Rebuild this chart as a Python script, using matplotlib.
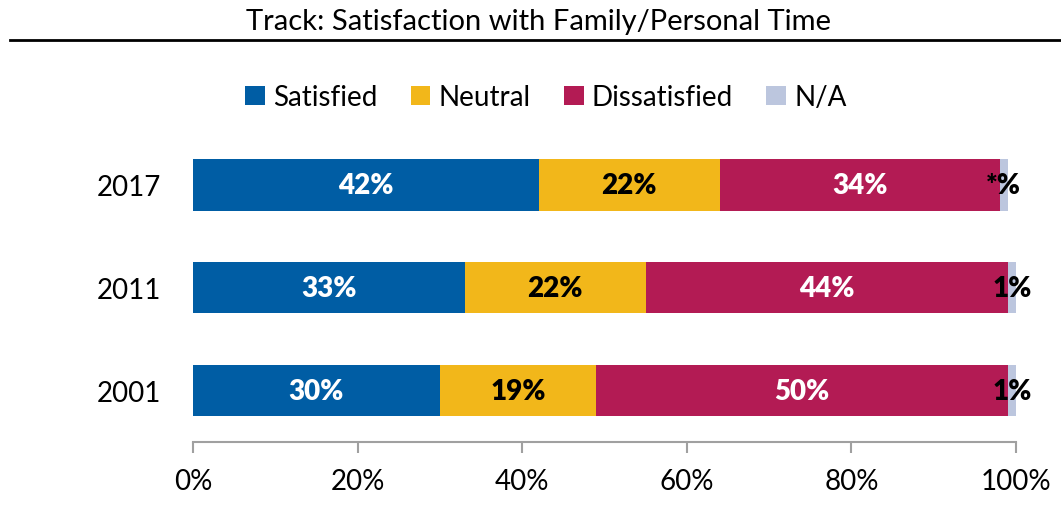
import matplotlib
matplotlib.use("Agg")
import matplotlib.pyplot as plt
from matplotlib.lines import Line2D
import numpy as np

years = ["2001", "2011", "2017"]
series = ["Satisfied", "Neutral", "Dissatisfied", "N/A"]
satisfied = [30, 33, 42]
neutral = [19, 22, 22]
dissatisfied = [50, 44, 34]
na = [1, 1, 1]
na_labels = ["1%", "1%", "*%"]
ticks = [0, 20, 40, 60, 80, 100]
tick_labels = ["0%", "20%", "40%", "60%", "80%", "100%"]

colors = ["#005DA4", "#F2B71A", "#B31B54", "#BCC6DE"]
text_colors = ["white", "black", "white", "black"]

plt.rcParams['font.family'] = ['Lato', 'DejaVu Sans']

fig = plt.figure(figsize=(10.61, 5.06), dpi=100)
ax = fig.add_axes([193/1061, 63/506, 823/1061, 308.5/506])

values = [satisfied, neutral, dissatisfied, na]
y = np.arange(len(years))
left = np.zeros(len(years))
for i, (name, vals) in enumerate(zip(series, values)):
    vals = np.array(vals, dtype=float)
    ax.barh(y, vals, left=left, height=0.5, color=colors[i], label=name)
    for j, v in enumerate(vals):
        lab = na_labels[j] if name == "N/A" else f"{int(v)}%"
        ax.text(left[j] + v / 2, y[j], lab, ha="center", va="center",
                color=text_colors[i], fontsize=20, fontweight="heavy")
    left += vals

ax.set_xlim(0, 100)
ax.set_ylim(-0.5, 2.5)
ax.set_yticks(y)
ax.set_yticklabels(years)
ax.set_xticks(ticks)
ax.set_xticklabels(tick_labels)
for s in ["top", "right", "left"]:
    ax.spines[s].set_visible(False)
ax.spines["bottom"].set_color("#A0A0A0")
ax.spines["bottom"].set_linewidth(1.5)
ax.tick_params(axis="x", colors="#A0A0A0", length=8, width=1.5,
               labelcolor="black", labelsize=20, pad=11)
ax.tick_params(axis="y", length=0, pad=23, labelsize=20)

handles, labels = ax.get_legend_handles_labels()
fig.legend(handles, labels, loc="center", bbox_to_anchor=(546/1061, 1 - 98/506),
           ncol=4, frameon=False, fontsize=20, handlelength=0.7, handleheight=0.7,
           handletextpad=0.3, columnspacing=1.2)

fig.text(538/1061, 1 - 22/506, "Track: Satisfaction with Family/Personal Time",
         ha="center", va="center", fontsize=21)
fig.add_artist(Line2D([10/1061, 1.0], [1 - 41/506, 1 - 41/506], color="black", linewidth=2))

fig.savefig("out.png", dpi=100)
